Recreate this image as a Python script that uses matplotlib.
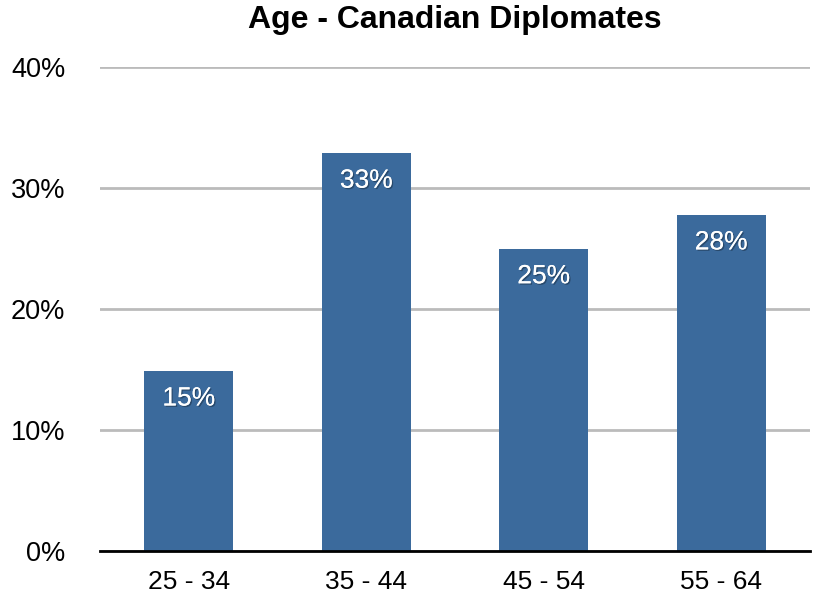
import matplotlib.pyplot as plt
import matplotlib.patheffects as pe

plt.rcParams['font.family'] = ['Liberation Sans', 'DejaVu Sans']

# The data
age_groups = ["25 - 34", "35 - 44", "45 - 54", "55 - 64"]
shares = [14.9, 32.9, 25.0, 27.8]
bar_labels = ["15%", "33%", "25%", "28%"]
y_ticks = [0, 10, 20, 30, 40]
y_tick_labels = ["0%", "10%", "20%", "30%", "40%"]

# The plot
fig = plt.figure(figsize=(8.17, 6.01), dpi=100)
ax = fig.add_axes([0.1224, 0.0832, 0.869, 0.8053])
x = list(range(len(age_groups)))
bars = ax.bar(x, shares, width=0.5, color="#3B6A9C", zorder=3)

ax.set_xlim(-0.5, 3.5)
ax.set_ylim(0, 40)
ax.set_yticks(y_ticks)
ax.set_yticklabels(y_tick_labels)
ax.set_xticks(x)
ax.set_xticklabels(age_groups)
ax.tick_params(axis="y", length=0, pad=25, labelsize=19.5)
ax.tick_params(axis="x", length=0, pad=14, labelsize=19)

ax.grid(axis="y", color="#BBBBBB", linewidth=2, zorder=0)
for side in ["top", "right", "left"]:
    ax.spines[side].set_visible(False)
ax.spines["bottom"].set_linewidth(2)
ax.spines["bottom"].set_zorder(4)

# Labels inside bars
shadow = [pe.withSimplePatchShadow(offset=(1, -1), shadow_rgbFace="black",
                                   alpha=0.3), pe.Normal()]
for bar, label in zip(bars, bar_labels):
    ax.annotate(label, (bar.get_x() + bar.get_width() / 2, bar.get_height()),
                xytext=(0, -20), textcoords="offset points",
                ha="center", va="center", color="white", fontsize=19,
                zorder=5, path_effects=shadow)

ax.set_title("Age - Canadian Diplomates", fontsize=23, fontweight="bold",
             pad=28)

# Save the plot
fig.savefig("out.png", dpi=100)
plt.close(fig)
